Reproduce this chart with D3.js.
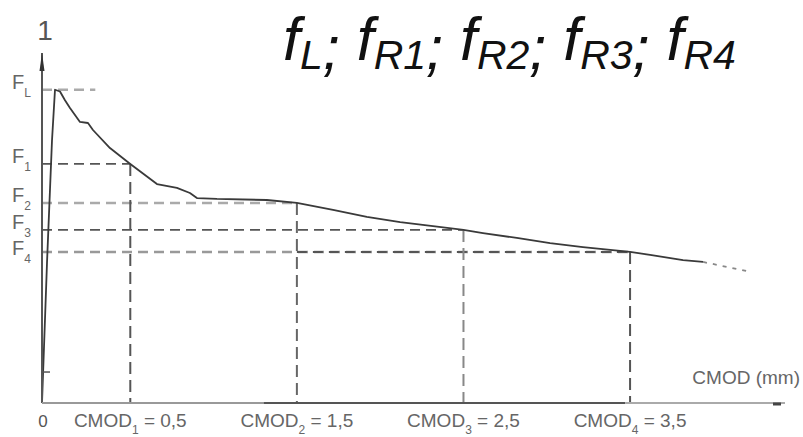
<!DOCTYPE html>
<html><head><meta charset="utf-8">
<script src="https://cdn.jsdelivr.net/npm/d3@7/dist/d3.min.js"></script>
<style>body{margin:0;background:#fff}svg{display:block}text{font-family:"Liberation Sans",Arial,sans-serif}</style>
</head><body><svg id="c" width="803" height="437"></svg>
<script>
// ---- data ----
const curveCmod  = [-0.03, 0.0, 0.03, 0.048, 0.078, 0.108, 0.138, 0.198, 0.246, 0.276, 0.378, 0.5, 0.66, 0.78, 0.858, 0.9, 1.02, 1.32, 1.5, 1.717, 1.92, 2.12, 2.317, 2.5, 2.617, 2.82, 3.02, 3.217, 3.5, 3.62, 3.818, 3.938];
const curveForce = [0, 8.0, 15.0, 17.9, 17.8, 17.3, 16.86, 16.06, 16.0, 15.6, 14.57, 13.66, 12.51, 12.29, 12.0, 11.71, 11.66, 11.6, 11.43, 11.03, 10.63, 10.34, 10.11, 9.89, 9.71, 9.43, 9.14, 8.91, 8.63, 8.46, 8.17, 8.06];
const extCmod  = [3.938, 4.2];
const extForce = [8.06, 7.54];
const levelNames = ["L", "1", "2", "3", "4"];
const levelForce = [17.9, 13.66, 11.43, 9.89, 8.63];
const levelEnd   = [0.29, 0.5, 1.5, 2.5, 3.5];
const levelTone  = ["#aaa", "#555", "#aaa", "#555", "#999"];
const cmodTicks  = [0.5, 1.5, 2.5, 3.5];
const cmodLabels = ["0,5", "1,5", "2,5", "3,5"];
const cmodSubs   = ["1", "2", "3", "4"];
const vTone      = ["#555", "#666", "#888", "#555"];
const titleSubs  = ["L", "R1", "R2", "R3", "R4"];

const svg = d3.select("#c");
const x = d3.scaleLinear().domain([-0.03, 4.43]).range([42, 785]);
const y = d3.scaleLinear().domain([0, 20]).range([403, 53]);
const x0 = x.range()[0], yB = y(0);

// reference lines (horizontal)
levelForce.forEach((f, i) => {
  svg.append("line").attr("x1", x0).attr("x2", x(levelEnd[i])).attr("y1", y(f)).attr("y2", y(f))
    .attr("stroke", levelTone[i]).attr("stroke-width", i % 2 === 0 ? 2.4 : 1.8)
    .attr("stroke-dasharray", "10,6");
});
// F4 darker second part
svg.append("line").attr("x1", x(1.5)).attr("x2", x(3.5)).attr("y1", y(levelForce[4])).attr("y2", y(levelForce[4]))
  .attr("stroke", "#555").attr("stroke-width", 1.8).attr("stroke-dasharray", "10,6");

// vertical dashed
cmodTicks.forEach((c, i) => {
  svg.append("line").attr("x1", x(c)).attr("x2", x(c)).attr("y1", y(levelForce[i + 1])).attr("y2", yB)
    .attr("stroke", vTone[i]).attr("stroke-width", 2).attr("stroke-dasharray", "12,6");
});

// curve
const line = d3.line().x(d => x(d[0])).y(d => y(d[1]));
svg.append("path").datum(d3.zip(curveCmod, curveForce)).attr("d", line)
  .attr("fill", "none").attr("stroke", "#3a3a3a").attr("stroke-width", 1.8).attr("stroke-linejoin", "round");
svg.append("path").datum(d3.zip(extCmod, extForce)).attr("d", line)
  .attr("fill", "none").attr("stroke", "#888").attr("stroke-width", 1.8).attr("stroke-dasharray", "4,6");

// axes
svg.append("line").attr("x1", x0).attr("x2", x0).attr("y1", y(20)).attr("y2", yB).attr("stroke", "#555").attr("stroke-width", 2);
svg.append("path").attr("d", `M${x0},${y(20)}L${x0 - 2.5},${y(20) + 18}L${x0 + 2.5},${y(20) + 18}Z`).attr("fill", "#333");
svg.append("line").attr("x1", x0).attr("x2", x0 + 8).attr("y1", y(1.77)).attr("y2", y(1.77)).attr("stroke", "#555").attr("stroke-width", 1.5);
const axisSeg = [[-0.03, 1.3, "#999"], [1.3, 3.47, "#555"], [3.47, 4.43, "#aaa"]];
axisSeg.forEach(s => svg.append("line").attr("x1", x(s[0])).attr("x2", x(s[1])).attr("y1", yB).attr("y2", yB).attr("stroke", s[2]).attr("stroke-width", 2.2));
svg.append("line").attr("x1", x(4.43) - 12).attr("x2", x(4.43) - 4).attr("y1", yB + 1).attr("y2", yB + 1).attr("stroke", "#444").attr("stroke-width", 3);

// y labels
svg.append("text").attr("x", x0 + 3).attr("y", 40).attr("text-anchor", "middle").attr("font-size", 28).attr("fill", "#555").text("1");
levelNames.forEach((n, i) => {
  const t = svg.append("text").attr("x", 12).attr("y", y(levelForce[i]) - 1 + (i === 4 ? 4 : 0)).attr("font-size", 20).attr("fill", "#666");
  t.append("tspan").text("F");
  t.append("tspan").attr("font-size", 12).attr("dy", 8).text(n);
});

// x labels
svg.append("text").attr("x", x(0) - 4).attr("y", 427).attr("text-anchor", "middle").attr("font-size", 17).attr("fill", "#555").text("0");
cmodTicks.forEach((c, i) => {
  const t = svg.append("text").attr("x", x(c)).attr("y", 427).attr("text-anchor", "middle").attr("font-size", 19).attr("fill", "#666");
  t.append("tspan").text("CMOD");
  t.append("tspan").attr("font-size", 12).attr("dy", 7).text(cmodSubs[i]);
  t.append("tspan").attr("dy", -7).text(" = " + cmodLabels[i]);
});
svg.append("text").attr("x", 800).attr("y", 384).attr("text-anchor", "end").attr("font-size", 19).attr("fill", "#666").text("CMOD (mm)");

// title
const tt = svg.append("text").attr("x", 283).attr("y", 60).attr("font-size", 61).attr("font-style", "italic").attr("fill", "#111");
titleSubs.forEach((s, i) => {
  tt.append("tspan").attr("dy", i === 0 ? 0 : -9).text((i === 0 ? "" : " ") + "f");
  tt.append("tspan").attr("font-size", 41).attr("dy", 9).text(s);
  if (i < titleSubs.length - 1) tt.append("tspan").text(";");
});
</script></body></html>
